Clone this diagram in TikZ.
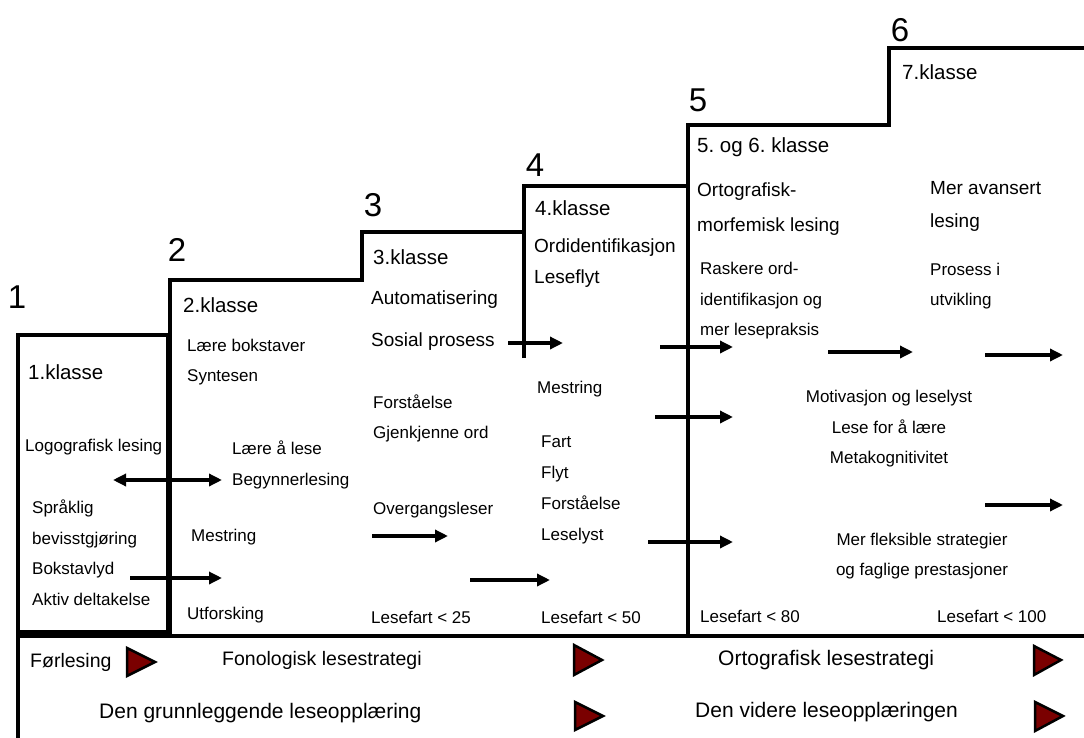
\documentclass[tikz,border=0pt]{standalone}
\usepackage{fontspec}
\setmainfont{Liberation Sans}
\usetikzlibrary{arrows.meta}
\definecolor{markred}{HTML}{7A0000}
\frenchspacing

\tikzset{
  stair/.style={line width=4pt},
  flow/.style={line width=4pt,-{Triangle[length=13pt,width=12pt]}},
  numlabel/.style={inner sep=0pt,font=\fontsize{33}{33}\selectfont},
  grade/.style={anchor=west,inner sep=0pt,font=\fontsize{20.5}{24}\selectfont},
  topic/.style={anchor=west,inner sep=0pt,align=left,font=\fontsize{19}{33}\selectfont},
  item/.style={anchor=west,inner sep=0pt,align=left,font=\fontsize{17}{30.5}\selectfont},
  strategy/.style={anchor=west,inner sep=0pt,font=\fontsize{19.5}{24}\selectfont},
  marker/.style={fill=markred,draw=black,line width=2.5pt,line join=miter}
}

\begin{document}
\begin{tikzpicture}[x=1pt,y=-1pt]
	\useasboundingbox (0,0) rectangle (1084,738);

	% staircase
	\draw[stair] (18,335) rectangle (168,632);
	\draw[stair] (170,636) -- (170,280) -- (362,280) -- (362,232) -- (524,232);
	\draw[stair] (524,358) -- (524,186) -- (688,186);
	\draw[stair] (688,636) -- (688,125) -- (889,125) -- (889,48) -- (1084,48);
	\draw[stair] (18,738) -- (18,636) -- (1084,636);

	% step numbers
	\node[numlabel] (n1) at (17,297) {1};
	\node[numlabel] (n2) at (177,250) {2};
	\node[numlabel] (n3) at (373,205) {3};
	\node[numlabel] (n4) at (535,165) {4};
	\node[numlabel] (n5) at (698,100) {5};
	\node[numlabel] (n6) at (900,30) {6};

	% 1.klasse
	\node[grade] (g1) at (28,372) {1.klasse};
	\node[item] (logo) at (25,447) {Logografisk lesing};
	\node[item] (spraak) at (32,552.5) {Språklig\\bevisstgjøring\\Bokstavlyd\\Aktiv deltakelse};

	% 2.klasse
	\node[grade] (g2) at (183,305) {2.klasse};
	\node[item] (bokst) at (187,362) {Lære bokstaver\\Syntesen};
	\node[item] (begynn) at (232,465) {Lære å lese\\Begynnerlesing};
	\node[item] (mestr2) at (191,537) {Mestring};
	\node[item] (utforsk) at (187,615) {Utforsking};

	% 3.klasse
	\node[grade] (g3) at (373,257) {3.klasse};
	\node[topic] (auto) at (371,300) {Automatisering};
	\node[topic] (sosial) at (371,342) {Sosial prosess};
	\node[item] (forst3) at (373,418.5) {Forståelse\\Gjenkjenne ord};
	\node[item] (overg) at (373,510) {Overgangsleser};
	\node[item] (fart3) at (371,617) {Lesefart < 25};

	% 4.klasse
	\node[grade] (g4) at (535,208) {4.klasse};
	\node[topic,font=\fontsize{19}{31}\selectfont] (ordid) at (534,263.5) {Ordidentifikasjon\\Leseflyt};
	\node[item] (mestr4) at (537,389) {Mestring};
	\node[item,font=\fontsize{17}{31}\selectfont] (flyt) at (541,489.5) {Fart\\Flyt\\Forståelse\\Leselyst};
	\node[item] (fart4) at (541,617) {Lesefart < 50};

	% 5. og 6. klasse
	\node[grade] (g5) at (697,147) {5. og 6. klasse};
	\node[topic,font=\fontsize{19}{35}\selectfont] (orto) at (697,209.5) {Ortografisk-\\morfemisk lesing};
	\node[item] (rask) at (700,301) {Raskere ord-\\identifikasjon og\\mer lesepraksis};
	\node[item] (fart5) at (700,616) {Lesefart < 80};

	% 7.klasse
	\node[grade] (g6) at (902,72) {7.klasse};
	\node[topic] (avans) at (930,206.5) {Mer avansert\\lesing};
	\node[item] (prosess) at (930,286) {Prosess i\\utvikling};
	\node[item,anchor=center,align=center] (motiv) at (889,429) {Motivasjon og leselyst\\Lese for å lære\\Metakognitivitet};
	\node[item,anchor=center,align=center] (fleks) at (922,556) {Mer fleksible strategier\\og faglige prestasjoner};
	\node[item] (fart6) at (937,616) {Lesefart < 100};

	% arrows
	\draw[flow,{Triangle[length=13pt,width=12pt]}-{Triangle[length=13pt,width=12pt]}] (113,480) -- (222,480);
	\draw[flow] (130,578) -- (222,578);
	\draw[flow] (372,536) -- (448,536);
	\draw[flow] (470,580) -- (550,580);
	\draw[flow] (508,343) -- (563,343);
	\draw[flow] (660,347) -- (733,347);
	\draw[flow] (655,417) -- (733,417);
	\draw[flow] (648,542) -- (733,542);
	\draw[flow] (828,352) -- (913,352);
	\draw[flow] (985,355) -- (1063,355);
	\draw[flow] (985,505) -- (1063,505);

	% reading strategies
	\node[strategy] (forl) at (30,662) {Førlesing};
	\node[strategy] (fono) at (222,660) {Fonologisk lesestrategi};
	\node[strategy,font=\fontsize{21}{24}\selectfont] (ortostr) at (718,660) {Ortografisk lesestrategi};
	\node[strategy,font=\fontsize{21}{24}\selectfont] (grunn) at (99,713) {Den grunnleggende leseopplæring};
	\node[strategy,font=\fontsize{21}{24}\selectfont] (videre) at (695,712) {Den videre leseopplæringen};

	\draw[marker] (127,648) -- (127,676) -- (155,662) -- cycle;
	\draw[marker] (574,645) -- (574,675) -- (602,660) -- cycle;
	\draw[marker] (1034,646) -- (1034,675) -- (1061,660) -- cycle;
	\draw[marker] (575,702) -- (575,730) -- (603,716) -- cycle;
	\draw[marker] (1035,702) -- (1035,731) -- (1063,716) -- cycle;
\end{tikzpicture}
\end{document}
